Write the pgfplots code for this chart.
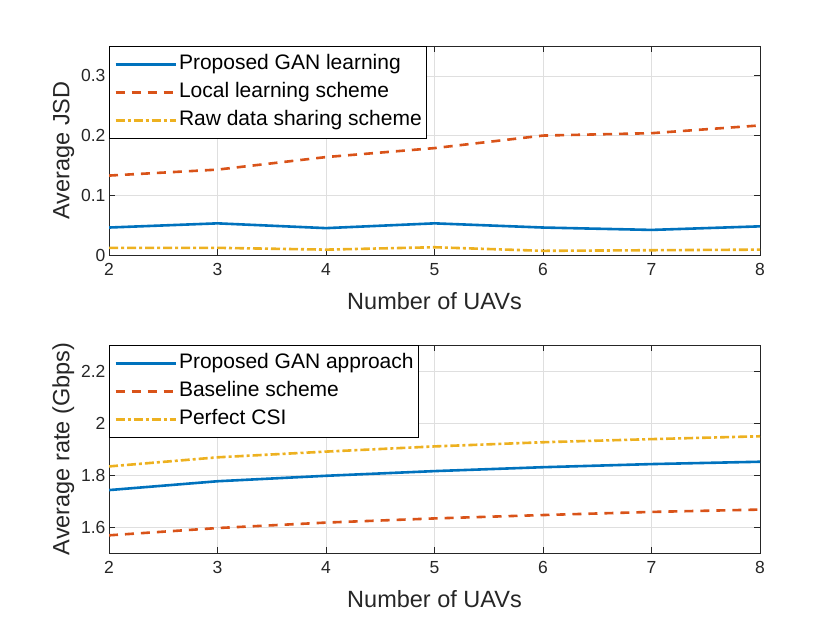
\documentclass[border=0pt]{standalone}
\usepackage{fontspec}
\setmainfont{Liberation Sans}
\usepackage{pgfplots}
\pgfplotsset{compat=1.18}
\definecolor{mblue}{rgb}{0,0.447,0.741}
\definecolor{morange}{rgb}{0.85,0.325,0.098}
\definecolor{myellow}{rgb}{0.929,0.694,0.125}
\definecolor{maxis}{rgb}{0.15,0.15,0.15}
\definecolor{mgrid}{rgb}{0.875,0.875,0.875}
\pgfplotsset{
  mstyle/.style={
    scale only axis,
    anchor=south west,
    width=651pt,
    xmin=2, xmax=8,
    xtick={2,3,4,5,6,7,8},
    grid=major,
    major grid style={mgrid, line width=0.7pt},
    axis line style={maxis, line width=0.8pt},
    tick style={maxis, line width=0.8pt},
    tick align=inside,
    major tick length=6pt,
    /pgf/number format/assume math mode=true,
    tick label style={font=\fontsize{17.5}{20}\selectfont, text=maxis},
    xticklabel style={yshift=-5pt},
    label style={font=\fontsize{23.5}{28}\selectfont, text=maxis},
    xlabel={Number of UAVs},
    xlabel style={yshift=-10pt},
    legend cell align=left,
    legend style={at={(0,1)}, anchor=north west, draw=black, line width=0.8pt,
      font=\fontsize{21}{24}\selectfont, inner xsep=5pt, inner ysep=8pt, row sep=8pt,
      nodes={inner sep=0pt, text height=15pt, text depth=5pt},
      /tikz/every odd column/.append style={column sep=2pt}},
    legend image code/.code={\draw[#1] (0pt,0pt) -- (60pt,0pt);},
  },
  msolid/.style={mblue, line width=2.6pt},
  mdash/.style={morange, line width=2.6pt, dash pattern=on 9pt off 7pt},
  mdashdot/.style={myellow, line width=2.6pt, dash pattern=on 9pt off 3pt on 3pt off 3pt},
}
\begin{document}
\begin{tikzpicture}
\path[use as bounding box] (0pt,0pt) rectangle (840pt,630pt);
\begin{axis}[mstyle, at={(109pt,375pt)}, height=209pt,
  ymin=0, ymax=0.35, ytick={0,0.1,0.2,0.3},
  yticklabels={0,0.1,0.2,0.3},
  ylabel={Average JSD}]
\addplot[msolid] coordinates {(2,0.046) (3,0.053) (4,0.045) (5,0.053) (6,0.046) (7,0.042) (8,0.048)};
\addlegendentry{Proposed GAN learning}
\addplot[mdash] coordinates {(2,0.133) (3,0.143) (4,0.164) (5,0.179) (6,0.200) (7,0.204) (8,0.217)};
\addlegendentry{Local learning scheme}
\addplot[mdashdot] coordinates {(2,0.012) (3,0.012) (4,0.009) (5,0.013) (6,0.007) (7,0.008) (8,0.009)};
\addlegendentry{Raw data sharing scheme}
\end{axis}
\begin{axis}[mstyle, at={(109pt,77pt)}, height=208pt,
  ymin=1.5, ymax=2.3, ytick={1.6,1.8,2.0,2.2},
  yticklabels={1.6,1.8,2,2.2},
  ylabel={Average rate (Gbps)}]
\addplot[msolid] coordinates {(2,1.742) (3,1.776) (4,1.797) (5,1.815) (6,1.830) (7,1.842) (8,1.851)};
\addlegendentry{Proposed GAN approach}
\addplot[mdash] coordinates {(2,1.568) (3,1.596) (4,1.617) (5,1.633) (6,1.646) (7,1.658) (8,1.667)};
\addlegendentry{Baseline scheme}
\addplot[mdashdot] coordinates {(2,1.833) (3,1.868) (4,1.890) (5,1.910) (6,1.926) (7,1.938) (8,1.949)};
\addlegendentry{Perfect CSI}
\end{axis}
\end{tikzpicture}
\end{document}
